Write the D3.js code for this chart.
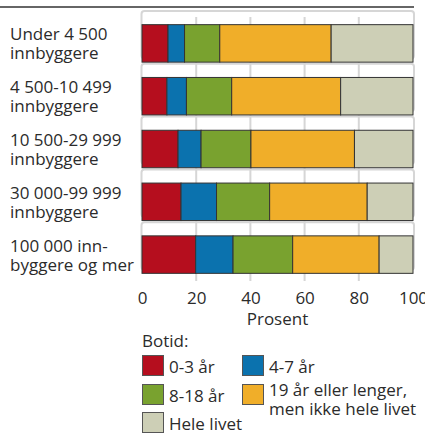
<!DOCTYPE html>
<html>
<head>
<meta charset="utf-8">
<script src="https://cdn.jsdelivr.net/npm/d3@7"></script>
<style>
  body { margin: 0; background: #fff; }
  text { font-family: "Open Sans", sans-serif; fill: #2b2b2b; }
</style>
</head>
<body>
<script>
// kommunestørrelse, two lines each
var categories = ["Under 4 500|innbyggere", "4 500-10 499|innbyggere", "10 500-29 999|innbyggere",
                  "30 000-99 999|innbyggere", "100 000 inn-|byggere og mer"];
var series = ["0-3 år", "4-7 år", "8-18 år", "19 år eller lenger,|men ikke hele livet", "Hele livet"];
var colors = ["#b50e1e", "#0b72ae", "#79a22f", "#f0ae29", "#cdcfb6"];
// percent per series, one value per category
var v03 = [9.6, 9.2, 13.3, 14.4, 19.8],
    v47 = [6.1, 7.2, 8.5, 13.1, 13.8],
    v818 = [13.0, 16.7, 18.4, 19.6, 22.0],
    v19 = [41.1, 40.2, 38.2, 36.0, 31.9],
    vHele = [30.2, 26.7, 21.6, 16.9, 12.5];
var xTicks = [0, 20, 40, 60, 80, 100];

var values = [v03, v47, v818, v19, vHele];
var rows = categories.map(function(c, i) {
  var r = {cat: c};
  series.forEach(function(s, j) { r[s] = values[j][i]; });
  return r;
});
var stacked = d3.stack().keys(series)(rows);

var width = 425, height = 433, fs = 17;
var svg = d3.select("body").append("svg")
    .attr("width", width)
    .attr("height", height);

var x = d3.scaleLinear().domain([0, 100]).range([142, 413]),
    y = d3.scaleBand().domain(categories).range([17, 281]).paddingInner(0.29).paddingOuter(0.145);

// top rule
svg.append("line")
    .attr("x1", 0).attr("x2", 414).attr("y1", 7).attr("y2", 7)
    .attr("stroke", "#333").attr("stroke-width", 1.3);

// grid boxes per band
var step = y.step();
svg.append("g").selectAll("rect")
    .data(categories)
    .enter().append("rect")
    .attr("x", x(0) - 0.5)
    .attr("width", x(100) - x(0) + 1.5)
    .attr("y", d => y(d) - y.padding() * step / 2 - 6)
    .attr("height", d => y.bandwidth() + 10)
    .attr("rx", 3)
    .attr("fill", "none")
    .attr("stroke", "#d6d6d6")
    .attr("stroke-width", 2);

svg.append("g").selectAll("line")
    .data(xTicks.slice(1, -1))
    .enter().append("line")
    .attr("x1", d => x(d)).attr("x2", d => x(d))
    .attr("y1", 17).attr("y2", 281)
    .attr("stroke", "#d6d6d6").attr("stroke-width", 2);

// bars
svg.append("g").selectAll("g")
    .data(stacked)
    .enter().append("g")
    .attr("fill", (d, i) => colors[i])
    .selectAll("rect")
    .data(d => d)
    .enter().append("rect")
    .attr("x", d => x(d[0]))
    .attr("width", d => x(d[1]) - x(d[0]))
    .attr("y", d => y(d.data.cat))
    .attr("height", y.bandwidth())
    .attr("stroke", "#333")
    .attr("stroke-width", 1);

// category labels, one text per line
categories.forEach(function(c) {
  var cy = y(c) + y.bandwidth() / 2;
  c.split("|").forEach(function(line, k) {
    svg.append("text")
      .attr("x", 10)
      .attr("y", cy - 3 + k * 19)
      .attr("font-size", fs)
      .text(line);
  });
});

// x axis
var gx = svg.append("g")
    .attr("transform", "translate(0,290)")
    .call(d3.axisBottom(x).tickValues(xTicks).tickSize(0).tickPadding(0));
gx.select(".domain").remove();
gx.selectAll("text")
    .attr("font-size", fs)
    .attr("font-family", "Open Sans, sans-serif")
    .attr("fill", "#2b2b2b")
    .attr("dy", "0.75em")
    .attr("y", 1);

svg.append("text")
    .attr("x", (x(0) + x(100)) / 2)
    .attr("y", 325)
    .attr("text-anchor", "middle")
    .attr("font-size", fs)
    .text("Prosent");

// legend
svg.append("text")
    .attr("x", 142).attr("y", 347)
    .attr("font-size", fs)
    .text("Botid:");

var legendPos = [[142, 355], [242, 355], [142, 384], [242, 384], [142, 412]];
var leg = svg.append("g").selectAll("g")
    .data(series)
    .enter().append("g")
    .attr("transform", (d, i) => `translate(${legendPos[i][0]},${legendPos[i][1]})`);
leg.append("rect")
    .attr("x", 0.5).attr("y", 0.5)
    .attr("width", 21).attr("height", 20)
    .attr("fill", (d, i) => colors[i])
    .attr("stroke", "#555").attr("stroke-width", 1);
leg.each(function(d) {
  var parts = d.split("|"), g = d3.select(this);
  parts.forEach(function(p, k) {
    g.append("text")
      .attr("x", 27)
      .attr("y", parts.length > 1 ? 12 + k * 19 : 18)
      .attr("font-size", fs)
      .text(p);
  });
});
</script>
</body>
</html>
